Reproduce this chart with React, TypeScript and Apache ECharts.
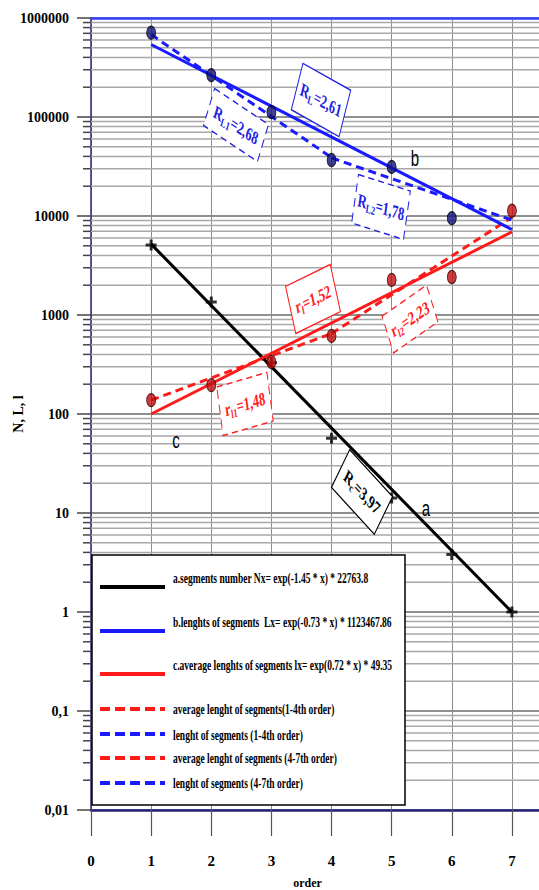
import React, { useEffect, useRef } from 'react';
import * as echarts from 'echarts';

// ---- data ----
const orders = [1, 2, 3, 4, 5, 6, 7];
const segmentsNumber = [5100, 1350, 330, 57, 14.2, 3.8, 1];
const lengthOrders = [1, 2, 3, 4, 5, 6];
const segmentLengths = [710000, 265000, 112000, 36800, 31300, 9500];
const avgSegmentLengths = [138, 196, 335, 614, 2260, 2420, 11300];

const fitOrders = [1, 7];
const fitNumber = [5200, 1];
const fitLength = [540000, 7300];
const fitAvgLength = [100, 6900];

const orders14 = [1, 4];
const orders47 = [4, 7];
const avgLength14 = [138, 650];
const length14 = [680000, 39000];
const avgLength47 = [650, 9700];
const length47 = [38600, 9100];

const xTickValues = [0, 1, 2, 3, 4, 5, 6, 7];
const xTickLabels = ['0', '1', '2', '3', '4', '5', '6', '7'];
const yTickValues = [0.01, 0.1, 1, 10, 100, 1000, 10000, 100000, 1000000];
const yTickLabels = ['0,01', '0,1', '1', '10', '100', '1000', '10000', '100000', '1000000'];
const minorMultipliers = [2, 3, 4, 5, 6, 7, 8, 9];

const legendNames = [
  'a.segments number Nx= exp(-1.45 * x) * 22763.8',
  'b.lenghts of segments  Lx= exp(-0.73 * x) * 1123467.86',
  'c.average lenghts of segments lx= exp(0.72 * x) * 49.35',
  'average lenght of segments(1-4th order)',
  'lenght of segments (1-4th order)',
  'average lenght of segments (4-7th order)',
  'lenght of segments (4-7th order)',
];

const BLACK = '#000000';
const BLUE = '#1a1aff';
const RED = '#ff1a1a';
const SERIF = '"Liberation Serif", "Times New Roman", serif';

const pairs = (xs: number[], ys: number[]) => ys.map((y, i) => [xs[i], y]);

const minorValues: number[] = [];
yTickValues.slice(0, -1).forEach((d) => minorMultipliers.forEach((m) => minorValues.push(d * m)));

function note(cx: number, cy: number, w: number, h: number, deg: number, color: string, dashed: boolean, main: string, sub: string, rest: string) {
  return {
    type: 'group', x: cx, y: cy, scaleY: 1.5, z: 50,
    children: [{
      type: 'group', rotation: (-deg * Math.PI) / 180,
      children: [
        { type: 'rect', z: 50, shape: { x: -w / 2, y: -h / 2, width: w, height: h }, style: { fill: '#ffffff', stroke: color, lineWidth: 1, lineDash: dashed ? [6, 4] : null } },
        {
          type: 'text', z: 51, x: 0, y: 0,
          style: {
            text: `{m|${main}}{s|${sub}}{m|${rest}}`,
            align: 'center', verticalAlign: 'middle',
            rich: {
              m: { fontSize: 12.5, fontWeight: 'bold', fontFamily: SERIF, fill: color, lineHeight: 16, verticalAlign: 'middle' },
              s: { fontSize: 8, fontWeight: 'bold', fontFamily: SERIF, fill: color, lineHeight: 8, verticalAlign: 'bottom' },
            },
          },
        },
      ],
    }],
  };
}

function letter(x: number, y: number, t: string) {
  return { type: 'text', x, y, scaleY: 1.45, z: 40, style: { text: t, fill: '#000', font: '15px "Liberation Sans", Arial, sans-serif', align: 'center', verticalAlign: 'middle' } };
}

const legendRows = [
  { color: BLACK, dash: null, lineY: 587, textY: 578 },
  { color: BLUE, dash: null, lineY: 631, textY: 622 },
  { color: RED, dash: null, lineY: 674, textY: 665 },
  { color: RED, dash: [10, 5], lineY: 709, textY: 709 },
  { color: BLUE, dash: [10, 5], lineY: 734, textY: 735 },
  { color: RED, dash: [10, 5], lineY: 758, textY: 758 },
  { color: BLUE, dash: [10, 5], lineY: 783, textY: 783 },
];

const legendGraphic = [
  { type: 'rect', z: 100, shape: { x: 92, y: 555, width: 313, height: 250 }, style: { fill: '#fff', stroke: '#000', lineWidth: 1.5 } },
  ...legendRows.flatMap((r, i) => [
    { type: 'line', z: 101, shape: { x1: 100, y1: r.lineY, x2: 165, y2: r.lineY }, style: { stroke: r.color, lineWidth: 4, lineDash: r.dash } },
    { type: 'text', z: 101, x: 173, y: r.textY, scaleY: 1.5, style: { text: legendNames[i], fill: '#000', font: `bold 9.5px ${SERIF}`, verticalAlign: 'middle', align: 'left' } },
  ]),
];

function lineSeries(name: string, xs: number[], ys: number[], color: string, dashed: boolean) {
  return {
    name, type: 'line', data: pairs(xs, ys), symbol: 'none', z: 3,
    lineStyle: { color, width: 3, type: dashed ? [8, 5] : 'solid' },
    itemStyle: { color },
  };
}

const plus = 'path://M4,0H7V4H11V7H7V11H4V7H0V4H4Z';

export default function App() {
  const ref = useRef<HTMLDivElement>(null);
  useEffect(() => {
    const chart = echarts.init(ref.current as HTMLDivElement, null, { renderer: 'svg' });
    const option = {
      animation: false,
      backgroundColor: '#ffffff',
      grid: { left: 91, top: 18, width: 451, height: 792, containLabel: false, outerBoundsMode: 'none' },
      xAxis: [
        {
          type: 'value', min: 0, max: 7.5, interval: 1, position: 'bottom',
          name: 'order', nameLocation: 'middle', nameGap: 67, nameMoveOverlap: false,
          nameTextStyle: { fontFamily: SERIF, fontWeight: 'bold', fontSize: 12, color: '#000', padding: [0, 18, 0, 0] },
          axisLine: { show: true, onZero: false, lineStyle: { color: '#22227a', width: 2.5 } },
          axisTick: { show: true, length: 26, lineStyle: { color: '#555', width: 1.2 } },
          axisLabel: {
            margin: 43, fontFamily: SERIF, fontWeight: 'bold', fontSize: 15, color: '#000', showMaxLabel: false,
            formatter: (v: number) => { const i = xTickValues.indexOf(v); return i >= 0 ? xTickLabels[i] : ''; },
          },
          splitLine: { show: true, lineStyle: { color: '#8c8c8c', width: 1 } },
        },
        {
          type: 'value', min: 0, max: 7.5, position: 'top',
          axisLine: { show: true, onZero: false, lineStyle: { color: '#3340ff', width: 2.5 } },
          axisTick: { show: false }, axisLabel: { show: false }, splitLine: { show: false },
        },
      ],
      yAxis: {
        type: 'log', logBase: 10, min: 0.01, max: 1000000, splitNumber: 8,
        name: 'N, L, l', nameLocation: 'middle', nameGap: 66, nameMoveOverlap: false,
        nameTextStyle: { fontFamily: SERIF, fontWeight: 'bold', fontSize: 14, color: '#000' },
        axisLine: { show: true, onZero: false, lineStyle: { color: '#2b2b80', width: 1.5 } },
        axisTick: { show: true, length: 14, lineStyle: { color: '#444', width: 1.5 } },
        axisLabel: {
          margin: 22, fontFamily: SERIF, fontWeight: 'bold', fontSize: 14, color: '#000',
          formatter: (v: number) => {
            let best = 0;
            yTickValues.forEach((t, i) => { if (Math.abs(Math.log10(t) - Math.log10(v)) < Math.abs(Math.log10(yTickValues[best]) - Math.log10(v))) best = i; });
            return yTickLabels[best];
          },
        },
        splitLine: { show: true, lineStyle: { color: '#8f8f8f', width: 2 } },
      },
      series: [
        {
          type: 'custom', name: 'minor grid', silent: true, z: 1, clip: false,
          data: minorValues.map((v) => [0, v]),
          encode: { x: 0, y: 1 },
          renderItem: (params: any, api: any) => {
            const p = api.coord([0, api.value(1)]);
            const cs = params.coordSys;
            return {
              type: 'group',
              children: [
                { type: 'line', shape: { x1: cs.x, y1: p[1], x2: cs.x + cs.width, y2: p[1] }, style: { stroke: '#a8a8a8', lineWidth: 1.5 } },
                { type: 'line', shape: { x1: cs.x - 8, y1: p[1], x2: cs.x, y2: p[1] }, style: { stroke: '#444', lineWidth: 1.5 } },
              ],
            };
          },
        },
        lineSeries(legendNames[3], orders14, avgLength14, RED, true),
        lineSeries(legendNames[4], orders14, length14, BLUE, true),
        lineSeries(legendNames[5], orders47, avgLength47, RED, true),
        lineSeries(legendNames[6], orders47, length47, BLUE, true),
        lineSeries(legendNames[0], fitOrders, fitNumber, BLACK, false),
        lineSeries(legendNames[1], fitOrders, fitLength, BLUE, false),
        lineSeries(legendNames[2], fitOrders, fitAvgLength, RED, false),
        {
          name: 'N', type: 'scatter', z: 5, data: pairs(orders, segmentsNumber),
          symbol: plus, symbolSize: 11, itemStyle: { color: '#000' },
        },
        {
          name: 'L', type: 'scatter', z: 5, data: pairs(lengthOrders, segmentLengths),
          symbol: 'circle', symbolSize: [9, 13], itemStyle: { color: '#10107a', borderColor: '#000', borderWidth: 1 },
        },
        {
          name: 'l', type: 'scatter', z: 5, data: pairs(orders, avgSegmentLengths),
          symbol: 'circle', symbolSize: [9, 13], itemStyle: { color: '#c00c0c', borderColor: '#3a0000', borderWidth: 1 },
        },
      ],
      graphic: [
        note(321, 100, 51, 33, 20.6, '#2020e0', false, 'R', 'L', '=2,61'),
        note(236, 125, 59, 27, 24, '#2020e0', true, 'R', 'L1', '=2,68'),
        note(381, 207, 53, 33, 12, '#2020e0', true, 'R', 'L2', '=1,78'),
        note(313, 299, 47, 33, -18, '#ff2020', false, 'r', 'l', '=1,52'),
        note(410, 319, 49, 27, -25, '#ff2020', true, 'r', 'l2', '=2,23'),
        note(245, 404, 51, 33, -11, '#ff2020', true, 'r', 'l1', '=1,48'),
        note(362, 492, 53, 31, 36, '#000000', false, 'R', 'c', '=3,97'),
        letter(415, 158, 'b'),
        letter(176, 440, 'c'),
        letter(426, 508, 'a'),
        ...legendGraphic,
      ],
    };
    chart.setOption(option as any);
    return () => chart.dispose();
  }, []);
  return <div ref={ref} style={{ position: 'absolute', left: 0, top: 0, width: 539, height: 890, background: '#fff' }} />;
}
